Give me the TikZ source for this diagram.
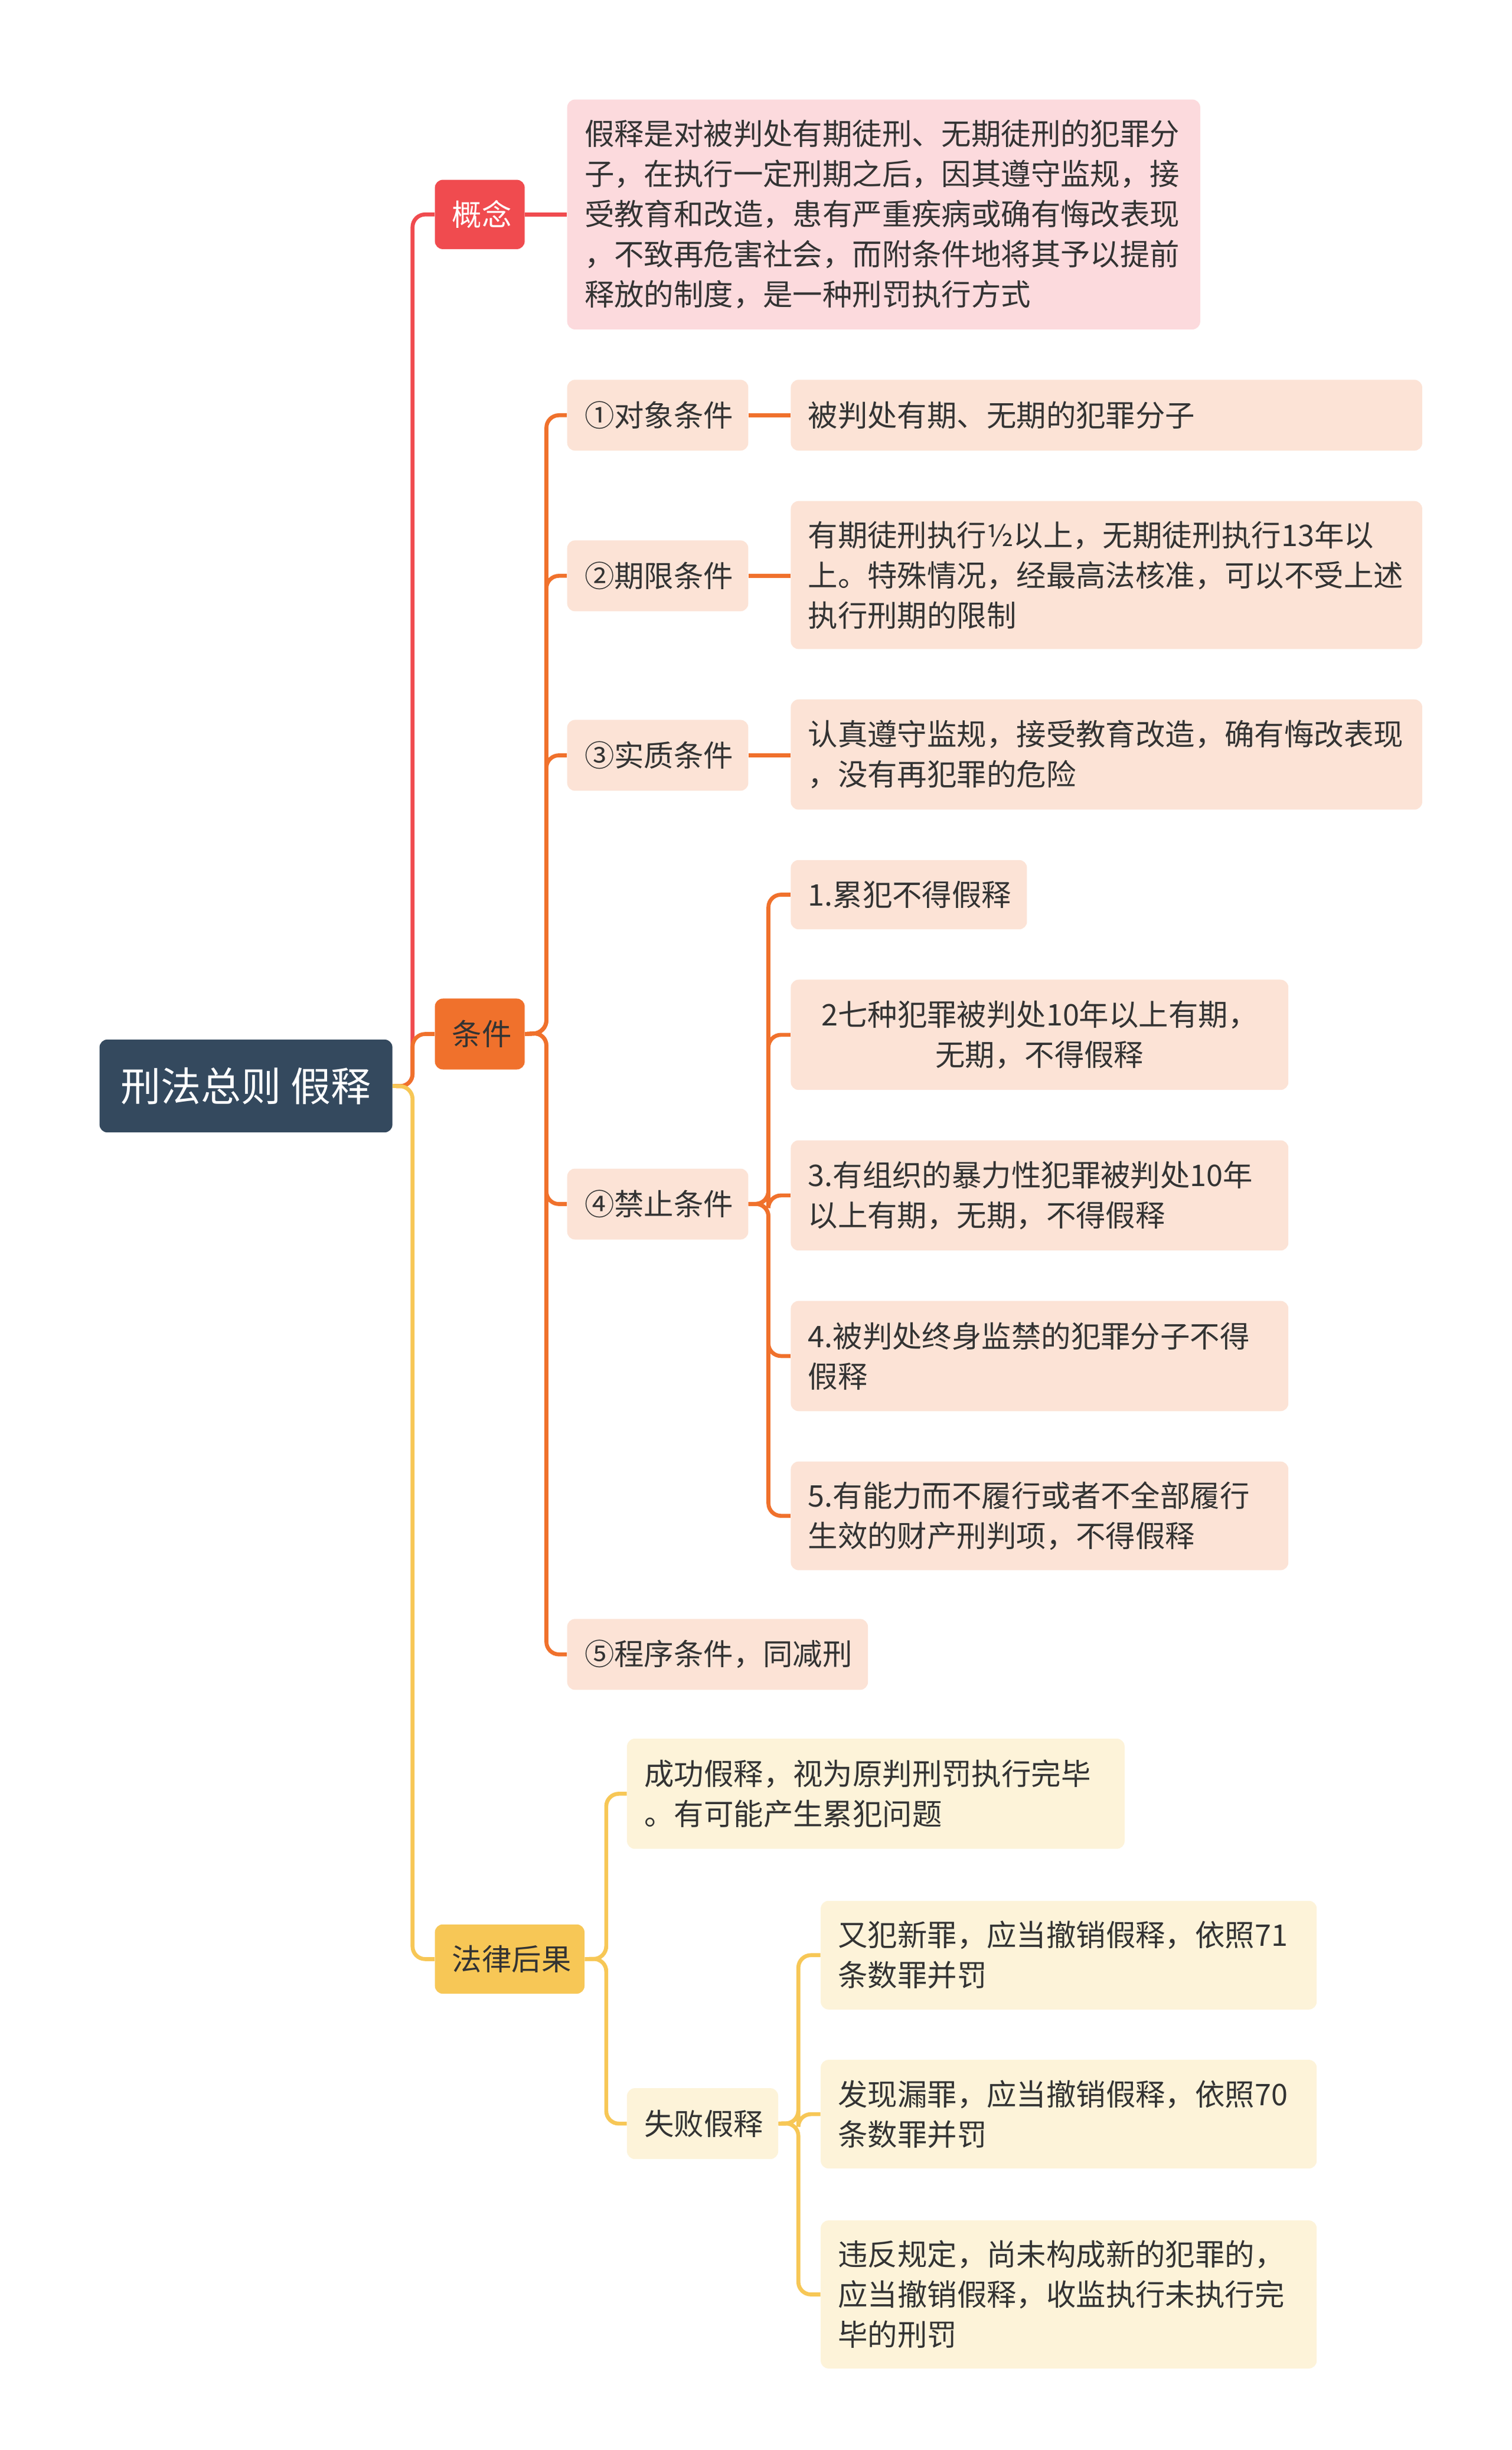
\documentclass[tikz,border=0pt]{standalone}
\usepackage{fontspec}
\setmainfont{Noto Sans CJK SC}
\definecolor{rootc}{HTML}{34495E}
\definecolor{redc}{HTML}{F04B4F}
\definecolor{redl}{HTML}{FCDADD}
\definecolor{orc}{HTML}{F0712C}
\definecolor{orl}{HTML}{FCE3D6}
\definecolor{yec}{HTML}{F7C756}
\definecolor{yel}{HTML}{FDF3D9}
\definecolor{txt}{HTML}{333333}
\tikzset{
  bx/.style={anchor=north west, rounded corners=5pt, inner xsep=11pt, inner ysep=0pt, align=left, text=txt, font=\fontsize{18.9}{25.5}\selectfont},
  ln/.style={line width=2.5pt, rounded corners=8pt},
}
\newcommand{\bxx}[8]{% name, x, y, w, h, fill, align, text
  \node[bx, fill=#6, text width=#4pt-22pt, minimum height=#5pt, align=#7] (#1) at (#2,#3) {#8};}
\begin{document}
\begin{tikzpicture}[x=1pt,y=-1pt]
\useasboundingbox[fill=white] (0,0) rectangle (960,1556);
% root
\node[bx, fill=rootc, text=white, minimum width=186pt, minimum height=59pt, align=center, font=\fontsize{25.5}{28}\selectfont] (root) at (63,660) {刑法总则 假释};
\bxx{gn}{276}{114}{57}{44}{redc}{center}{\color{white}概念}
\bxx{tj}{276}{634}{57}{45}{orc}{center}{条件}
\bxx{hg}{276}{1222}{95}{44}{yec}{center}{法律后果}
\bxx{gnc}{360}{63}{402}{146}{redl}{left}{假释是对被判处有期徒刑、无期徒刑的犯罪分\\子，在执行一定刑期之后，因其遵守监规，接\\受教育和改造，患有严重疾病或确有悔改表现\\，不致再危害社会，而附条件地将其予以提前\\释放的制度，是一种刑罚执行方式}
% conditions
\bxx{c1}{360}{241}{115}{45}{orl}{left}{①对象条件}
\bxx{c2}{360}{343}{115}{45}{orl}{left}{②期限条件}
\bxx{c3}{360}{457}{115}{45}{orl}{left}{③实质条件}
\bxx{c4}{360}{742}{115}{45}{orl}{left}{④禁止条件}
\bxx{c5}{360}{1028}{191}{45}{orl}{left}{⑤程序条件，同减刑}
\bxx{l1}{502}{241}{401}{45}{orl}{left}{被判处有期、无期的犯罪分子}
\bxx{l2}{502}{318}{401}{94}{orl}{left}{有期徒刑执行½以上，无期徒刑执行13年以\\上。特殊情况，经最高法核准，可以不受上述\\执行刑期的限制}
\bxx{l3}{502}{444}{401}{70}{orl}{left}{认真遵守监规，接受教育改造，确有悔改表现\\，没有再犯罪的危险}
\bxx{p1}{502}{546}{150}{44}{orl}{left}{1.累犯不得假释}
\bxx{p2}{502}{622}{316}{70}{orl}{center}{2七种犯罪被判处10年以上有期，\\无期，不得假释}
\bxx{p3}{502}{724}{316}{70}{orl}{left}{3.有组织的暴力性犯罪被判处10年\\以上有期，无期，不得假释}
\bxx{p4}{502}{826}{316}{70}{orl}{left}{4.被判处终身监禁的犯罪分子不得\\假释}
\bxx{p5}{502}{928}{316}{69}{orl}{left}{5.有能力而不履行或者不全部履行\\生效的财产刑判项，不得假释}
% consequences
\bxx{h1}{398}{1104}{316}{70}{yel}{left}{成功假释，视为原判刑罚执行完毕\\。有可能产生累犯问题}
\bxx{h2}{398}{1326}{96}{45}{yel}{left}{失败假释}
\bxx{f1}{521}{1207}{315}{69}{yel}{left}{又犯新罪，应当撤销假释，依照71\\条数罪并罚}
\bxx{f2}{521}{1308}{315}{69}{yel}{left}{发现漏罪，应当撤销假释，依照70\\条数罪并罚}
\bxx{f3}{521}{1410}{315}{94}{yel}{left}{违反规定，尚未构成新的犯罪的，\\应当撤销假释，收监执行未执行完\\毕的刑罚}
% connectors
\draw[ln, redc] (root.east) -- (262,690) |- (gn.west);
\draw[ln, orc] (root.east) -- (262,690) |- (tj.west);
\draw[ln, yec] (root.east) -- (262,690) |- (hg.west);
\draw[ln, redc] (gn.east) -- (gnc.west |- gn.east);
\foreach \c in {c1,c2,c3,c4,c5} \draw[ln, orc] (tj.east) -- (347,656) |- (\c.west);
\draw[ln, orc] (c1.east) -- (l1.west);
\draw[ln, orc] (c2.east) -- (l2.west |- c2.east);
\draw[ln, orc] (c3.east) -- (l3.west |- c3.east);
\foreach \p in {p1,p2,p3,p4,p5} \draw[ln, orc] (c4.east) -- (488,764.5) |- (\p.west);
\foreach \h in {h1,h2} \draw[ln, yec] (hg.east) -- (385,1244) |- (\h.west);
\foreach \f in {f1,f2,f3} \draw[ln, yec] (h2.east) -- (507,1348.5) |- (\f.west);
\end{tikzpicture}
\end{document}
